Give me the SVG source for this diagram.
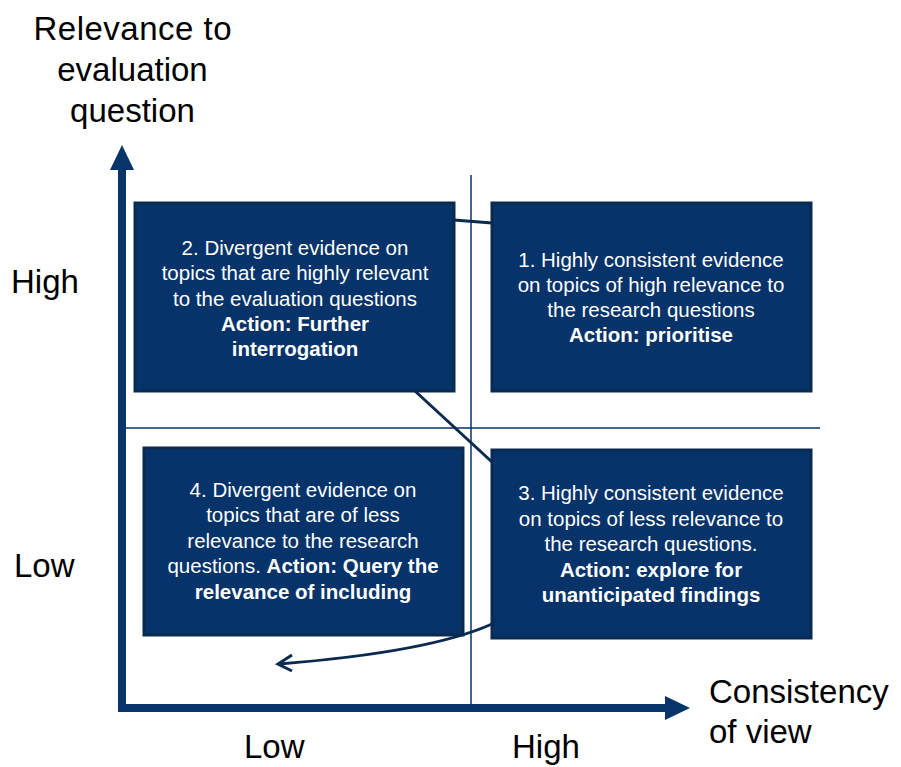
<svg xmlns="http://www.w3.org/2000/svg" width="901" height="767" viewBox="0 0 901 767">
  <style>
    .box { fill: #05336a; stroke: #0b2a50; stroke-width: 3; }
    .txt { font-family: "Liberation Sans", Arial, sans-serif; font-size: 20.5px; fill: #ffffff; text-anchor: middle; }
    .b { font-weight: bold; }
    .lbl { font-family: "Liberation Sans", Arial, sans-serif; font-size: 33px; fill: #000000; }
    .axis { stroke: #07356a; stroke-width: 8; fill: none; }
    .grid { stroke: #07356a; stroke-width: 1.5; fill: none; }
    .conn { stroke: #0b2a50; stroke-width: 3; fill: none; }
  </style>

  <!-- axes -->
  <g id="axes">
    <path class="axis" d="M122,166 V708 H668"/>
    <polygon points="122,145 110,170 134,170" fill="#07356a"/>
    <polygon points="690,708 665,696 665,720" fill="#07356a"/>
    <line class="grid" x1="471" y1="175" x2="471" y2="708"/>
    <line class="grid" x1="126" y1="428" x2="820" y2="428"/>
  </g>

  <!-- axis labels -->
  <g id="labels" class="lbl">
    <text x="132.5" y="40" text-anchor="middle" textLength="198">Relevance to</text>
    <text x="132.5" y="81" text-anchor="middle">evaluation</text>
    <text x="132.5" y="122" text-anchor="middle">question</text>
    <text x="11" y="293">High</text>
    <text x="14" y="577">Low</text>
    <text x="244" y="758">Low</text>
    <text x="512" y="758">High</text>
    <text x="709" y="703">Consistency</text>
    <text x="709" y="743">of view</text>
  </g>

  <!-- connectors -->
  <g id="connectors">
    <line class="conn" x1="454" y1="220" x2="492" y2="223"/>
    <line class="conn" x1="415" y1="391" x2="492" y2="462"/>
    <path class="conn" d="M492,624 Q430,652 279,664"/>
    <path class="conn" d="M292,655 L278,664 L292,671" stroke-linejoin="miter"/>
  </g>

  <!-- quadrant 2 -->
  <g id="node2">
    <rect class="box" x="135" y="203" width="319" height="188"/>
    <text class="txt" x="295" y="255">2. Divergent evidence on</text>
    <text class="txt" x="295" y="280">topics that are highly relevant</text>
    <text class="txt" x="295" y="306">to the evaluation questions</text>
    <text class="txt b" x="295" y="331">Action: Further</text>
    <text class="txt b" x="295" y="356">interrogation</text>
  </g>

  <!-- quadrant 1 -->
  <g id="node1">
    <rect class="box" x="492" y="203" width="319" height="188"/>
    <text class="txt" x="651" y="267">1. Highly consistent evidence</text>
    <text class="txt" x="651" y="292">on topics of high relevance to</text>
    <text class="txt" x="651" y="317">the research questions</text>
    <text class="txt b" x="651" y="342">Action: prioritise</text>
  </g>

  <!-- quadrant 4 -->
  <g id="node4">
    <rect class="box" x="144" y="448" width="319" height="187"/>
    <text class="txt" x="303" y="497">4. Divergent evidence on</text>
    <text class="txt" x="303" y="522">topics that are of less</text>
    <text class="txt" x="303" y="548">relevance to the research</text>
    <text class="txt" x="303" y="573">questions. <tspan class="b">Action: Query the</tspan></text>
    <text class="txt b" x="303" y="599">relevance of including</text>
  </g>

  <!-- quadrant 3 -->
  <g id="node3">
    <rect class="box" x="492" y="450" width="319" height="188"/>
    <text class="txt" x="651" y="500">3. Highly consistent evidence</text>
    <text class="txt" x="651" y="526">on topics of less relevance to</text>
    <text class="txt" x="651" y="551">the research questions.</text>
    <text class="txt b" x="651" y="577">Action: explore for</text>
    <text class="txt b" x="651" y="602">unanticipated findings</text>
  </g>
</svg>
